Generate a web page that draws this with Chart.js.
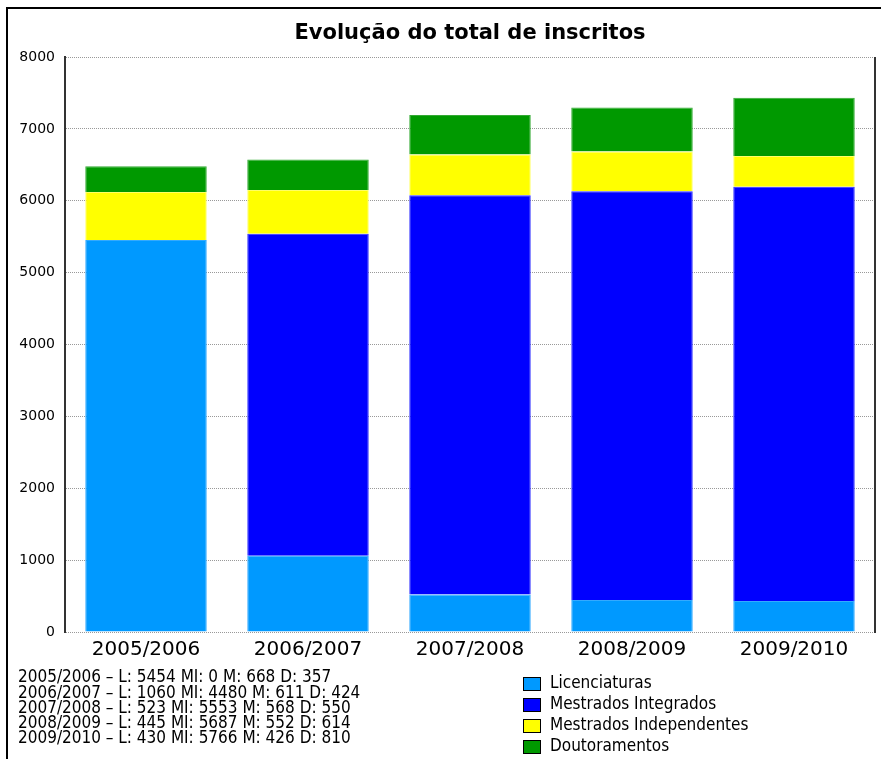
<!DOCTYPE html>
<html>
<head>
<meta charset="utf-8">
<title>Evolução do total de inscritos</title>
<script src="https://cdn.jsdelivr.net/npm/chart.js@4"></script>
<style>
  html, body { margin: 0; padding: 0; background: #fff; }
  #wrap { width: 881px; height: 759px; }
</style>
</head>
<body>
<div id="wrap"><canvas id="inscritosChart" width="881" height="759"></canvas></div>
<script>
// academic years on the x axis
let anos = ["2005/2006", "2006/2007", "2007/2008", "2008/2009", "2009/2010"];

// enrolments per type of degree
let licenciaturas = [5454, 1060, 523, 445, 430];
let mestradosIntegrados = [0, 4480, 5553, 5687, 5766];
let mestradosIndependentes = [668, 611, 568, 552, 426];
let doutoramentos = [357, 424, 550, 614, 810];

let yTicks = [0, 1000, 2000, 3000, 4000, 5000, 6000, 7000, 8000];

let cores = ["#0099ff", "#0000ff", "#ffff00", "#009900"];
let bordas = ["#33aaff", "#3333ff", "#ffff66", "#33aa33"];

let context = document.querySelector("#inscritosChart").getContext("2d");

// frame, title, right border of the plot, summary text and legend
let extras = {
  id: "extras",
  beforeDraw: function (chart) {
    let ctx = chart.ctx;
    ctx.save();
    ctx.fillStyle = "#fff";
    ctx.fillRect(0, 0, chart.width, chart.height);
    ctx.fillStyle = "#000";
    ctx.fillRect(6, 7, chart.width - 6, 2);
    ctx.fillRect(6, 7, 2, chart.height - 7);
    ctx.restore();
  },
  afterDraw: function (chart) {
    let ctx = chart.ctx;
    let area = chart.chartArea;
    ctx.save();

    ctx.fillStyle = "#333";
    ctx.fillRect(area.right - 1, area.top, 2, area.bottom - area.top + 1);

    ctx.fillStyle = "#000";
    ctx.font = "bold 21px 'DejaVu Sans'";
    ctx.textAlign = "center";
    ctx.textBaseline = "middle";
    ctx.fillText("Evolução do total de inscritos", (area.left + area.right) / 2, 34);

    // one summary line per year
    ctx.font = "17px 'DejaVu Sans Condensed', 'DejaVu Sans'";
    ctx.textAlign = "left";
    ctx.textBaseline = "middle";
    anos.forEach(function (ano, i) {
      let linha = ano + " – L: " + licenciaturas[i] + " MI: " + mestradosIntegrados[i] +
        " M: " + mestradosIndependentes[i] + " D: " + doutoramentos[i];
      ctx.fillText(linha, 18, 678 + i * 15.2);
    });

    // legend
    chart.data.datasets.forEach(function (ds, i) {
      let y = 684 + i * 21;
      ctx.fillStyle = ds.backgroundColor;
      ctx.fillRect(523, y - 7, 18, 14);
      ctx.strokeStyle = "#000";
      ctx.lineWidth = 1;
      ctx.strokeRect(523.5, y - 6.5, 17, 13);
      ctx.fillStyle = "#000";
      ctx.fillText(ds.label, 550, y);
    });
    ctx.restore();
  },
};

let datasets = [
  { label: "Licenciaturas", data: licenciaturas },
  { label: "Mestrados Integrados", data: mestradosIntegrados },
  { label: "Mestrados Independentes", data: mestradosIndependentes },
  { label: "Doutoramentos", data: doutoramentos },
].map(function (ds, i) {
  ds.backgroundColor = cores[i];
  ds.borderColor = bordas[i];
  ds.borderWidth = 1;
  ds.barPercentage = 0.75;
  ds.categoryPercentage = 1;
  return ds;
});

let chart = new Chart(context, {
  type: "bar",
  data: { labels: anos, datasets: datasets },
  options: {
    responsive: false,
    animation: false,
    layout: { padding: { top: 57, right: 6, left: 0, bottom: 0 } },
    plugins: {
      legend: { display: false },
      title: { display: false },
      tooltip: { enabled: false },
    },
    scales: {
      x: {
        stacked: true,
        grid: { display: false, drawTicks: false },
        border: { display: false },
        ticks: {
          color: "#000",
          font: { family: "'DejaVu Sans'", size: 20 },
          padding: 6,
          maxRotation: 0,
        },
        afterFit: function (scale) { scale.height = 127; },
      },
      y: {
        stacked: true,
        min: 0,
        max: 8000,
        afterBuildTicks: function (scale) {
          scale.ticks = yTicks.map(function (v) { return { value: v }; });
        },
        grid: { color: "#999", drawTicks: false, lineWidth: 1 },
        border: { display: true, color: "#333", width: 2, dash: [1, 1] },
        ticks: {
          color: "#000",
          font: { family: "'DejaVu Sans'", size: 14 },
          padding: 10,
          callback: function (value) { return String(value); },
        },
        afterFit: function (scale) { scale.width = 65; },
      },
    },
  },
  plugins: [extras],
});
</script>
</body>
</html>
